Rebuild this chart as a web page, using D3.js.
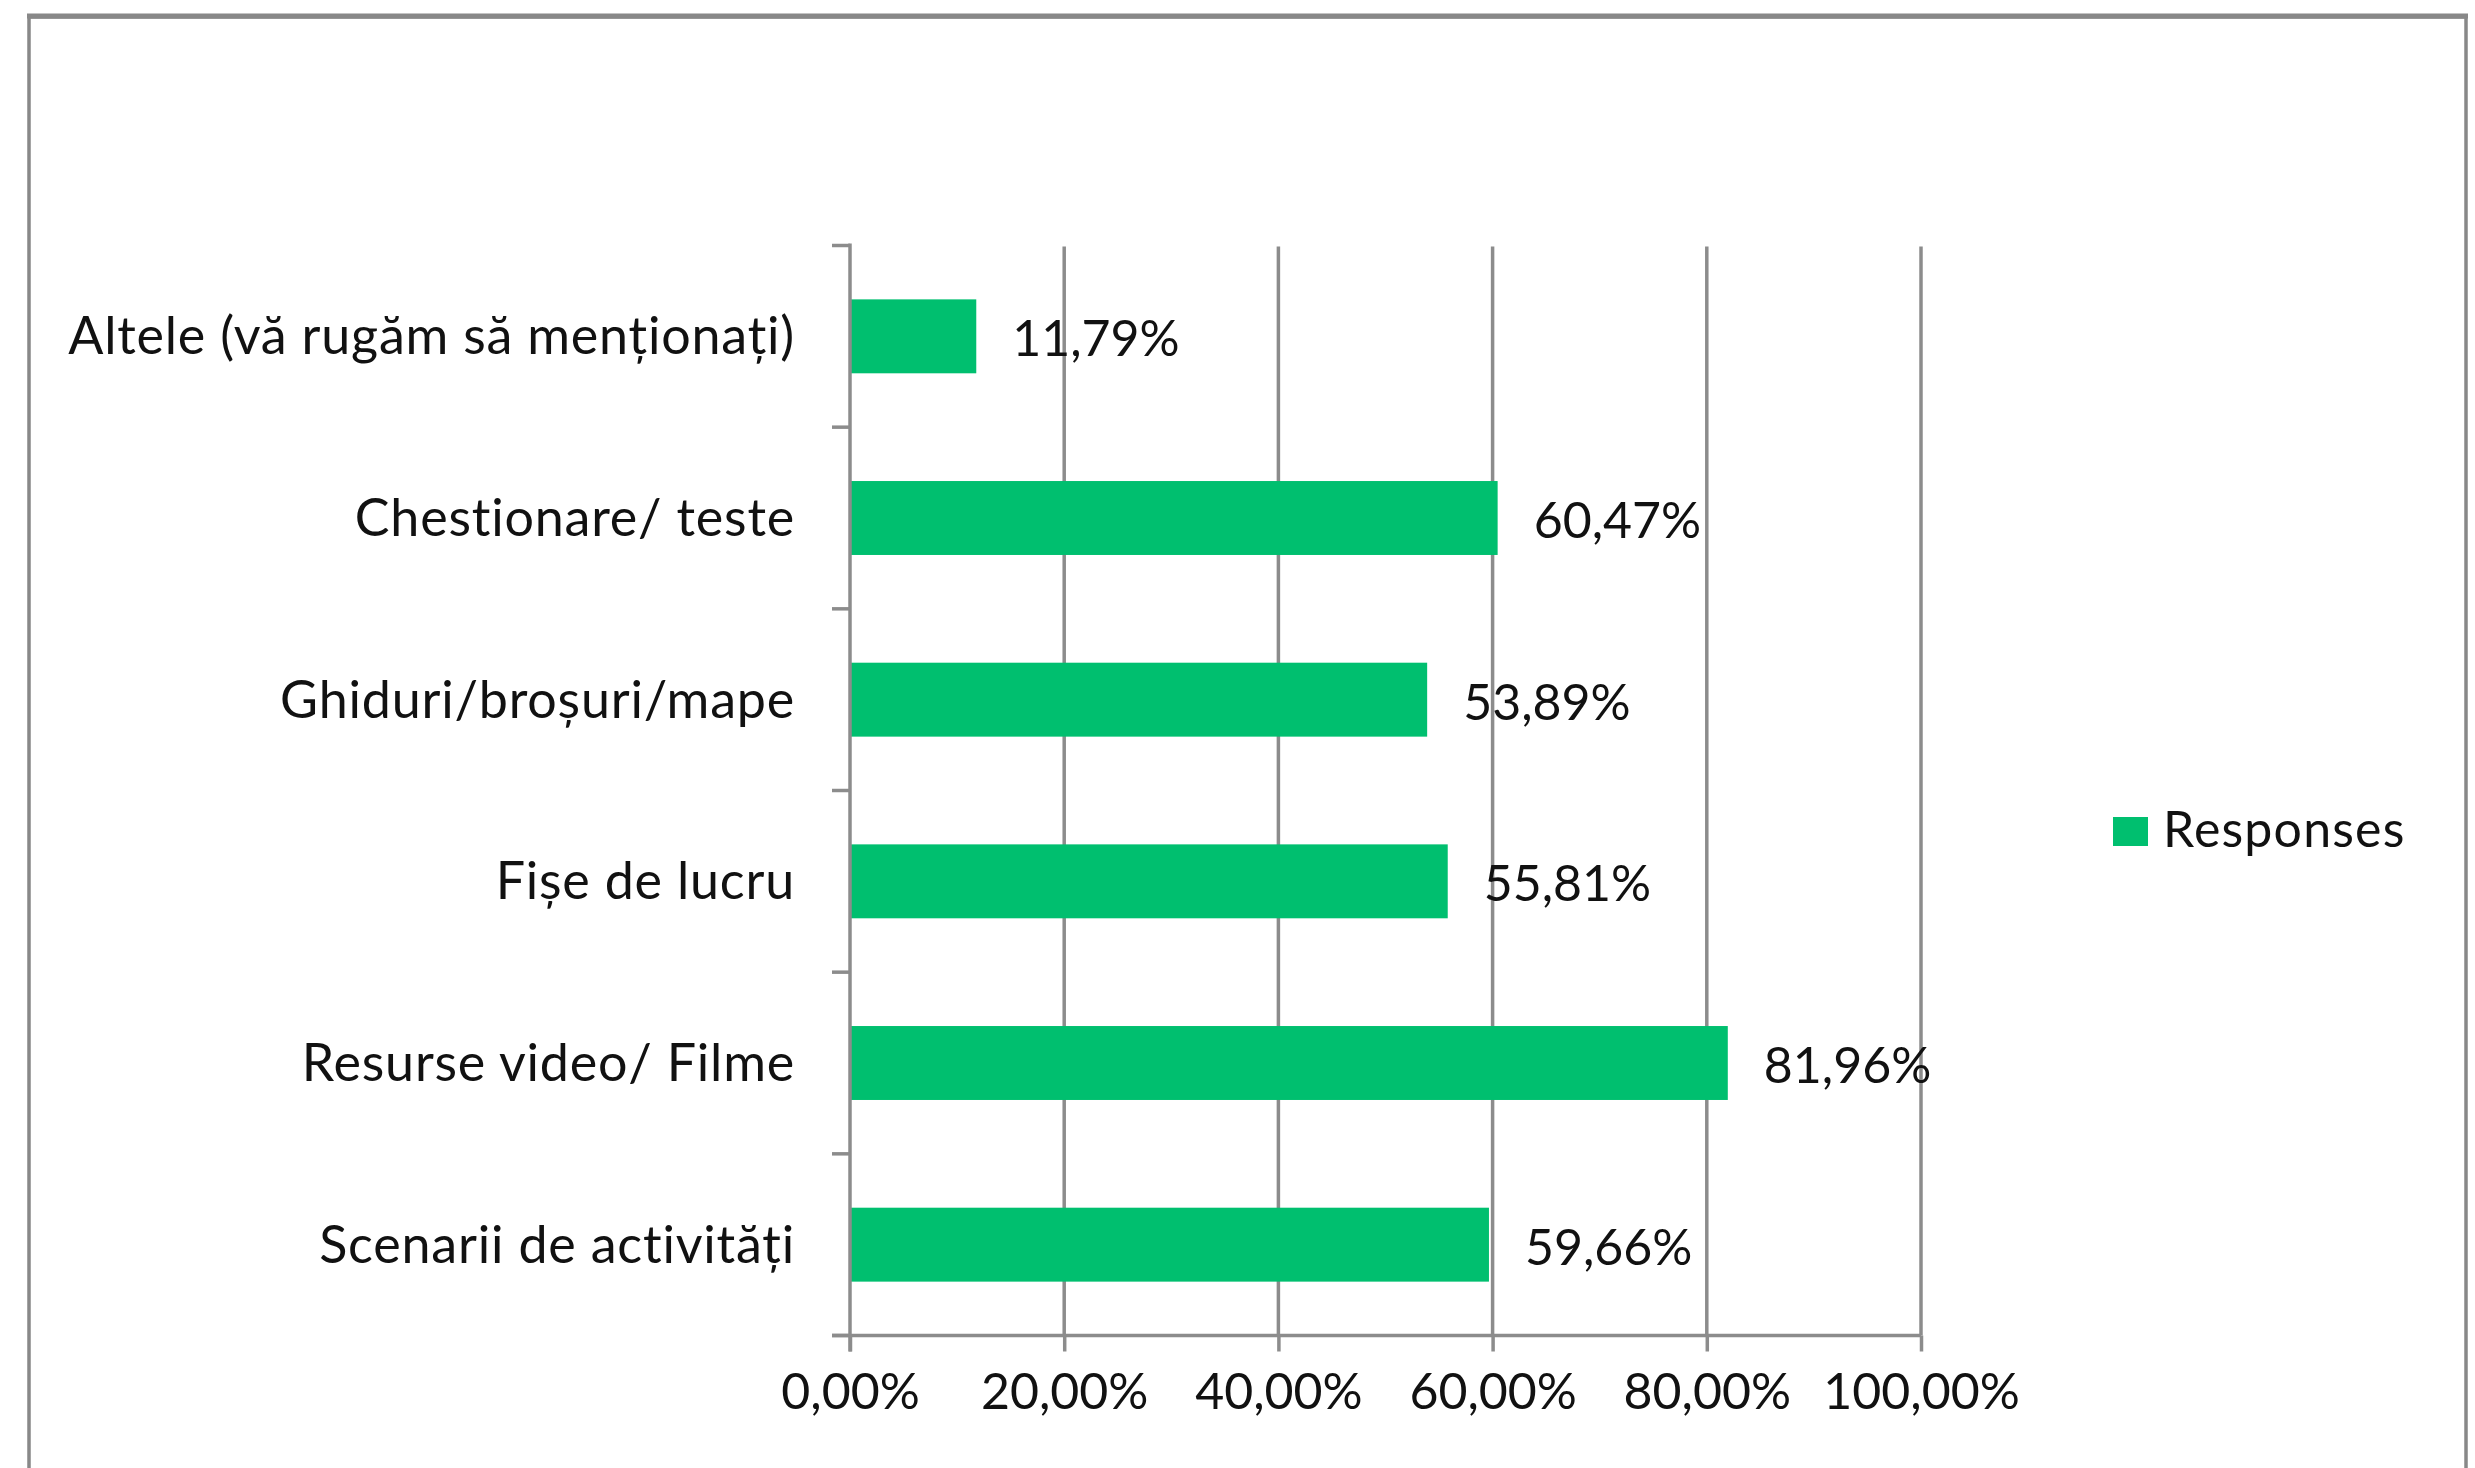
<!DOCTYPE html>
<html>
<head>
<meta charset="utf-8">
<script src="https://cdn.jsdelivr.net/npm/d3@7"></script>
<style>
  html, body { margin: 0; padding: 0; background: #ffffff; }
  svg { display: block; }
  text { font-family: Lato, "Open Sans", sans-serif; fill: #111111; }
</style>
</head>
<body>
<svg id="chart" width="2475" height="1468"></svg>
<script>
// ---- data ----
const categories = [
  "Altele (vă rugăm să menționați)",
  "Chestionare/ teste",
  "Ghiduri/broșuri/mape",
  "Fișe de lucru",
  "Resurse video/ Filme",
  "Scenarii de activități"
];
const values = [11.79, 60.47, 53.89, 55.81, 81.96, 59.66];
const xTicks = [0, 20, 40, 60, 80, 100];
const seriesName = "Responses";

// ---- layout / style ----
const W = 2475, H = 1468;
const plot = { left: 850, right: 1921, top: 245.5, bottom: 1335.5 };
const green = "#00bf6f";
const gridColor = "#8c8c8c";
const fontSize = 50;
const barFrac = 0.407;

const svg = d3.select("#chart");

// outer frame
svg.append("rect").attr("x", 29).attr("y", 17).attr("width", 2437).attr("height", 1470)
  .attr("fill", "#ffffff").attr("stroke", "#888888").attr("stroke-width", 3.5);
svg.append("line").attr("x1", 27).attr("x2", 2468).attr("y1", 16).attr("y2", 16)
  .attr("stroke", "#888888").attr("stroke-width", 5);

const x = d3.scaleLinear().domain([0, 100]).range([plot.left, plot.right]);
const y = d3.scaleBand().domain(categories).range([plot.top, plot.bottom]).padding(0);

const fmt = v => v.toFixed(2).replace(".", ",") + "%";

// vertical gridlines
svg.append("g").selectAll("line").data(xTicks.filter(t => t > 0)).join("line")
  .attr("x1", d => x(d)).attr("x2", d => x(d))
  .attr("y1", plot.top + 1).attr("y2", plot.bottom)
  .attr("stroke", gridColor).attr("stroke-width", 3.5);

// bars
const bh = y.bandwidth() * barFrac;
svg.append("g").selectAll("rect").data(categories).join("rect")
  .attr("x", x(0))
  .attr("y", d => y(d) + (y.bandwidth() - bh) / 2)
  .attr("width", (d, i) => x(values[i]) - x(0))
  .attr("height", bh)
  .attr("fill", green);

// bottom axis
const xAxis = d3.axisBottom(x).tickValues(xTicks).tickSize(16).tickPadding(22)
  .tickFormat(d => fmt(d));
const gx = svg.append("g").attr("transform", `translate(0,${plot.bottom})`).call(xAxis);
gx.select(".domain").attr("stroke", gridColor).attr("stroke-width", 3.5)
  .attr("d", `M${plot.left - 18},0H${plot.right}`);
gx.selectAll(".tick line").attr("stroke", gridColor).attr("stroke-width", 3.5);
gx.selectAll(".tick text").attr("font-size", fontSize).attr("font-family", "Lato")
  .attr("fill", "#111111");

// left axis (ticks at category boundaries)
const yEdges = categories.map(c => y(c)).concat([plot.bottom]);
const gy = svg.append("g");
gy.append("line").attr("x1", plot.left).attr("x2", plot.left)
  .attr("y1", plot.top - 2).attr("y2", plot.bottom + 16)
  .attr("stroke", gridColor).attr("stroke-width", 3.5);
gy.selectAll("line.tk").data(yEdges).join("line").attr("class", "tk")
  .attr("x1", plot.left - 18).attr("x2", plot.left)
  .attr("y1", d => d).attr("y2", d => d)
  .attr("stroke", gridColor).attr("stroke-width", 3.5);

// category labels
svg.append("g").selectAll("text").data(categories).join("text")
  .attr("x", plot.left - 55)
  .attr("y", d => y(d) + y.bandwidth() / 2 + 18)
  .attr("text-anchor", "end")
  .attr("font-size", 52)
  .attr("letter-spacing", 0.8)
  .text(d => d);

// value labels
svg.append("g").selectAll("text").data(categories).join("text")
  .attr("x", (d, i) => x(values[i]) + 36)
  .attr("y", d => y(d) + y.bandwidth() / 2 + 20)
  .attr("font-size", fontSize)
  .text((d, i) => fmt(values[i]));

// legend
const lg = svg.append("g");
lg.append("rect").attr("x", 2113).attr("y", 817).attr("width", 35).attr("height", 29).attr("fill", green);
lg.append("text").attr("x", 2163).attr("y", 847).attr("font-size", fontSize)
  .attr("letter-spacing", 1.2).text(seriesName);
</script>
</body>
</html>
